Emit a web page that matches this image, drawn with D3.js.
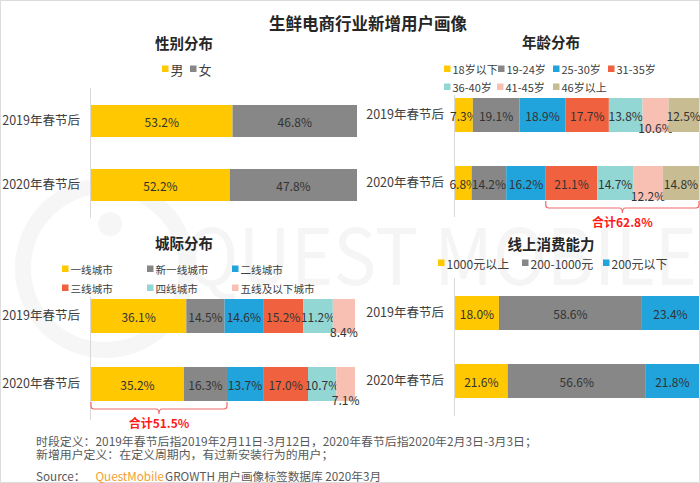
<!DOCTYPE html>
<html>
<head>
<meta charset="utf-8">
<script src="https://cdn.jsdelivr.net/npm/d3@7"></script>
<style>
  body { margin: 0; background: #fff; }
  svg { display: block; }
  text { font-family: "Noto Sans CJK SC", "Noto Sans", sans-serif; }
</style>
</head>
<body>
<div id="vis"></div>
<script>
// ---------- data ----------
const periods = ["2019年春节后", "2020年春节后"];

const genderKeys = ["男", "女"];
const genderValues = [[53.2, 46.8], [52.2, 47.8]];

const ageKeys = ["18岁以下", "19-24岁", "25-30岁", "31-35岁", "36-40岁", "41-45岁", "46岁以上"];
const ageValues = [
  [7.3, 19.1, 18.9, 17.7, 13.8, 10.6, 12.5],
  [6.8, 14.2, 16.2, 21.1, 14.7, 12.2, 14.8]
];

const cityKeys = ["一线城市", "新一线城市", "二线城市", "三线城市", "四线城市", "五线及以下城市"];
const cityValues = [
  [36.1, 14.5, 14.6, 15.2, 11.2, 8.4],
  [35.2, 16.3, 13.7, 17.0, 10.7, 7.1]
];

const spendKeys = ["1000元以上", "200-1000元", "200元以下"];
const spendValues = [[18.0, 58.6, 23.4], [21.6, 56.6, 21.8]];

const mainTitle = "生鲜电商行业新增用户画像";
const notes = [
  "时段定义：2019年春节后指2019年2月11日-3月12日，2020年春节后指2020年2月3日-3月3日；",
  "新增用户定义：在定义周期内，有过新安装行为的用户；"
];

const palette = ["#ffc800", "#878787", "#21a4dc", "#f0623f", "#93d7d5", "#f8c0b3", "#c8bc92"];

// ---------- canvas ----------
const W = 700, H = 483;
const svg = d3.select("#vis").append("svg")
  .attr("width", W)
  .attr("height", H);

// watermark
const wm = svg.append("g").attr("fill", "none");
wm.append("circle").attr("cx", 105).attr("cy", 268).attr("r", 82)
  .attr("stroke", "#f6f6f6").attr("stroke-width", 16);
wm.append("circle").attr("cx", 110).attr("cy", 224).attr("r", 12)
  .attr("fill", "#f6f6f6");
wm.append("text")
  .attr("x", 185).attr("y", 285)
  .attr("font-size", 78)
  .attr("textLength", 512)
  .attr("lengthAdjust", "spacingAndGlyphs")
  .attr("fill", "#f5f5f5")
  .text("QUEST MOBILE");

svg.append("rect")
  .attr("x", 0.5).attr("y", 0.5)
  .attr("width", W - 1).attr("height", H - 1)
  .attr("fill", "none").attr("stroke", "#dcdcdc");

svg.append("text")
  .attr("x", 368).attr("y", 23)
  .attr("text-anchor", "middle")
  .attr("dominant-baseline", "central")
  .attr("font-size", 16.5).attr("font-weight", 700)
  .attr("fill", "#262626")
  .text(mainTitle);

// ---------- panels ----------
const panels = [
  {
    title: "性别分布", titleX: 184, titleY: 42,
    keys: genderKeys, values: genderValues,
    legend: [[162, 69], [190, 69]], legendSize: 13,
    x0: 91, x1: 357, bars: [105, 201], axisY: [88, 218]
  },
  {
    title: "年龄分布", titleX: 551, titleY: 41,
    keys: ageKeys, values: ageValues,
    legend: [[444, 69], [498, 69], [553, 69], [608, 69], [444, 87], [497, 87], [553, 87]],
    legendSize: 11,
    x0: 455, x1: 699, bars: [98, 200], axisY: [95, 217],
    lowKey: "41-45岁", lowOffset: 12.5,
    bracket: { row: 1, from: 3, to: 6, label: "合计62.8%" }
  },
  {
    title: "城际分布", titleX: 184, titleY: 242,
    keys: cityKeys, values: cityValues,
    legend: [[62, 269], [147, 269], [232, 269], [62, 288], [147, 288], [232, 288]],
    legendSize: 10.6,
    x0: 91, x1: 355, bars: [299, 401], axisY: [297, 420],
    lowKey: "五线及以下城市", lowOffset: 15.5,
    bracket: { row: 1, from: 0, to: 1, label: "合计51.5%" }
  },
  {
    title: "线上消费能力", titleX: 551, titleY: 243,
    keys: spendKeys, values: spendValues,
    legend: [[438, 263], [522, 263], [603, 263]], legendSize: 12,
    x0: 455, x1: 699, bars: [296, 398], axisY: [278, 416]
  }
];

panels.forEach(drawPanel);

function drawPanel(p) {
  const g = svg.append("g");

  g.append("text")
    .attr("x", p.titleX).attr("y", p.titleY)
    .attr("text-anchor", "middle")
    .attr("dominant-baseline", "central")
    .attr("font-size", 14.5).attr("font-weight", 700)
    .attr("fill", "#262626")
    .text(p.title);

  // legend
  p.keys.forEach((k, i) => {
    const [lx, ly] = p.legend[i];
    g.append("rect")
      .attr("x", lx).attr("y", ly - 3.5)
      .attr("width", 6.5).attr("height", 6.5)
      .attr("fill", palette[i]);
    g.append("text")
      .attr("x", lx + 8.5).attr("y", ly)
      .attr("dominant-baseline", "central")
      .attr("font-size", p.legendSize)
      .attr("fill", "#404040")
      .text(k);
  });

  const rows = periods.map((period, r) => {
    const o = { period };
    p.keys.forEach((k, i) => o[k] = p.values[r][i]);
    return o;
  });
  const stacked = d3.stack().keys(p.keys).offset(d3.stackOffsetExpand)(rows);

  const x = d3.scaleLinear().domain([0, 1]).range([p.x0, p.x1]);
  const y = d3.scaleBand()
    .domain(periods)
    .range(p.bars)
    .paddingInner(0.5)
    .paddingOuter(0);

  // category axis
  g.append("line")
    .attr("x1", p.x0 - 0.5).attr("x2", p.x0 - 0.5)
    .attr("y1", p.axisY[0]).attr("y2", p.axisY[1])
    .attr("stroke", "#d9d9d9");

  const ax = g.append("g")
    .attr("transform", `translate(${p.x0 - 1},0)`)
    .call(d3.axisLeft(y).tickSize(0).tickPadding(10));
  ax.select(".domain").remove();
  ax.selectAll("text")
    .attr("font-size", 12.5)
    .attr("fill", "#404040")
    .attr("font-family", '"Noto Sans CJK SC", "Noto Sans", sans-serif');

  // bars
  const layer = g.selectAll("g.layer")
    .data(stacked)
    .enter().append("g")
    .attr("class", "layer")
    .attr("fill", (d, i) => palette[i]);

  layer.selectAll("rect")
    .data(d => d)
    .enter().append("rect")
    .attr("x", d => x(d[0]))
    .attr("y", d => y(d.data.period))
    .attr("width", d => x(d[1]) - x(d[0]))
    .attr("height", y.bandwidth());

  layer.selectAll("text")
    .data(d => d.map(s => ({ key: d.key, s })))
    .enter().append("text")
    .attr("x", d => (x(d.s[0]) + x(d.s[1])) / 2)
    .attr("y", d => y(d.s.data.period) + y.bandwidth() / 2 + (d.key === p.lowKey ? p.lowOffset : 0))
    .attr("text-anchor", "middle")
    .attr("dominant-baseline", "central")
    .attr("font-size", 12)
    .attr("fill", "#333")
    .text(d => d3.format(".1f")(d.s.data[d.key]) + "%");

  // bracket with total
  if (p.bracket) {
    const b = p.bracket;
    const period = periods[b.row];
    const left = x(stacked[b.from][b.row][0]);
    const right = Math.min(x(stacked[b.to][b.row][1]), W - 1);
    const top = y(period) + y.bandwidth() + 1;
    const bot = top + 7;
    const mid = (left + right) / 2;
    const r = 3;
    const path = d3.path();
    path.moveTo(left, top);
    path.lineTo(left, bot - r);
    path.quadraticCurveTo(left, bot, left + r, bot);
    path.lineTo(mid - r, bot);
    path.quadraticCurveTo(mid, bot, mid, bot + r + 2);
    path.quadraticCurveTo(mid, bot, mid + r, bot);
    path.lineTo(right - r, bot);
    path.quadraticCurveTo(right, bot, right, bot - r);
    path.lineTo(right, top);
    g.append("path")
      .attr("d", path.toString())
      .attr("fill", "none")
      .attr("stroke", "#f06b6b")
      .attr("stroke-width", 1.2);
    g.append("text")
      .attr("x", mid).attr("y", bot + 13)
      .attr("text-anchor", "middle")
      .attr("dominant-baseline", "central")
      .attr("font-size", 12).attr("font-weight", 700)
      .attr("fill", "#ff1a1a")
      .text(b.label);
  }
}

// ---------- footer ----------
notes.forEach((t, i) => {
  svg.append("text")
    .attr("x", 36).attr("y", 440 + i * 13.5)
    .attr("dominant-baseline", "central")
    .attr("font-size", 11.9)
    .attr("fill", "#595959")
    .text(t);
});

const src = svg.append("text")
  .attr("x", 36).attr("y", 475)
  .attr("dominant-baseline", "central")
  .attr("font-size", 11.7)
  .attr("fill", "#595959");
src.append("tspan").text("Source：");
src.append("tspan").attr("fill", "#f5a030").attr("dx", 10).text("QuestMobile");
src.append("tspan").attr("dx", 1).text("GROWTH 用户画像标签数据库 2020年3月");
</script>
</body>
</html>
